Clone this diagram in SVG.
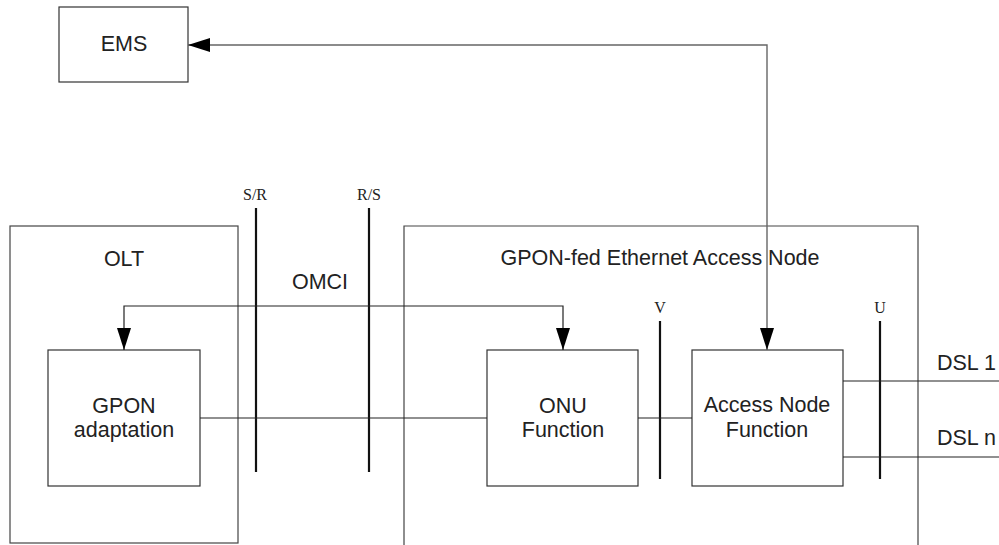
<svg xmlns="http://www.w3.org/2000/svg" width="999" height="545" viewBox="0 0 999 545">
<style>
.box{fill:#fff;stroke:#333;stroke-width:1.2}
.frame{fill:none;stroke:#444;stroke-width:1.2}
.t{font-family:"Liberation Sans",Arial,sans-serif;font-size:21.5px;fill:#222;text-anchor:middle}
.tl{font-family:"Liberation Sans",Arial,sans-serif;font-size:21.5px;fill:#222}
.ref{font-family:"Liberation Serif","Times New Roman",serif;font-size:16px;fill:#222;text-anchor:middle}
.conn{fill:none;stroke:#222;stroke-width:1.2}
.gray{fill:none;stroke:#666;stroke-width:1.4}
.rp{stroke:#111;stroke-width:2.2}
</style>
<defs>
<marker id="ah" markerUnits="userSpaceOnUse" markerWidth="22" markerHeight="14" refX="22" refY="7" orient="auto-start-reverse">
<path d="M0,0 L22,7 L0,14 Z" fill="#000"/>
</marker>
</defs>
<rect width="999" height="545" fill="#fff"/>
<g id="olt">
<rect class="frame" x="10" y="226" width="228" height="317"/>
<text class="t" x="124" y="266">OLT</text>
</g>
<g id="gpon-fed-an">
<path class="frame" d="M404,545 L404,226 L918,226 L918,545"/>
<text class="t" x="660" y="265">GPON-fed Ethernet Access Node</text>
</g>
<g id="ems">
<rect class="box" x="59" y="7" width="129" height="75"/>
<text class="t" x="124" y="51">EMS</text>
</g>
<g id="gpon-adaptation">
<rect class="box" x="48" y="350" width="152" height="136"/>
<text class="t" x="124" y="413">GPON</text>
<text class="t" x="124" y="437">adaptation</text>
</g>
<g id="onu-function">
<rect class="box" x="487" y="350" width="151" height="136"/>
<text class="t" x="563" y="413">ONU</text>
<text class="t" x="563" y="437">Function</text>
</g>
<g id="access-node-function">
<rect class="box" x="692" y="350" width="151" height="136"/>
<text class="t" x="767" y="412">Access Node</text>
<text class="t" x="767" y="437">Function</text>
</g>
<g id="reference-points">
<line class="rp" x1="256" y1="208" x2="256" y2="472"/>
<text class="ref" x="255" y="200">S/R</text>
<line class="rp" x1="369" y1="208" x2="369" y2="472"/>
<text class="ref" x="369" y="200">R/S</text>
<line class="rp" x1="660" y1="321" x2="660" y2="479"/>
<text class="ref" x="660" y="313">V</text>
<line class="rp" x1="880" y1="321" x2="880" y2="479"/>
<text class="ref" x="880" y="313">U</text>
</g>
<g id="connectors">
<path class="gray" d="M767,350 L767,45 L188,45" marker-end="url(#ah)" marker-start="url(#ah)"/>
<path class="conn" d="M124,350 L124,306 L563,306 L563,350" marker-start="url(#ah)" marker-end="url(#ah)"/>
<line class="conn" x1="200" y1="418" x2="487" y2="418"/>
<line class="conn" x1="638" y1="418" x2="692" y2="418"/>
<line class="conn" x1="843" y1="381" x2="999" y2="381"/>
<line class="conn" x1="843" y1="457" x2="999" y2="457"/>
<text class="t" x="320" y="289">OMCI</text>
<text class="tl" x="937" y="370">DSL 1</text>
<text class="tl" x="937" y="445">DSL n</text>
</g>
</svg>
